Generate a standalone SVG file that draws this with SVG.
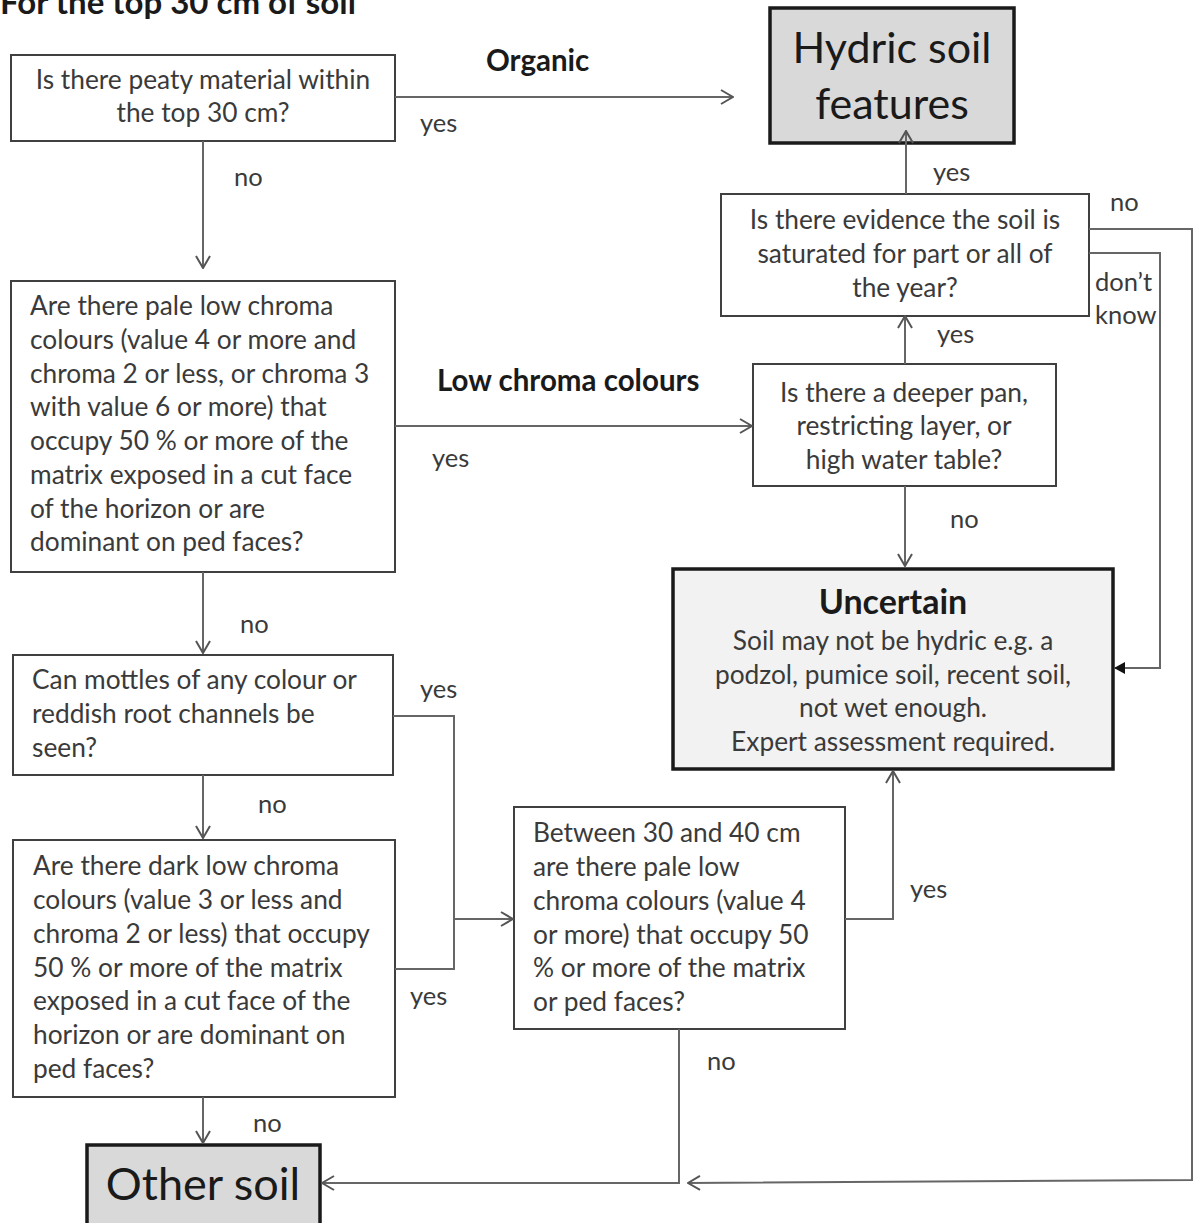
<svg xmlns="http://www.w3.org/2000/svg" width="1194" height="1223" viewBox="0 0 1194 1223">
<defs>
<style>
.box{fill:#fff;stroke:#404040;stroke-width:2}
.term{fill:#d9d9d9;stroke:#1a1a1a;stroke-width:3.5}
.unc{fill:#f2f2f2;stroke:#1a1a1a;stroke-width:3.5}
text{font-family:Lato,"Liberation Sans",sans-serif;fill:#3a3a3a}
.t{font-size:26.3px}
.c{text-anchor:middle}
.b{font-weight:bold;fill:#1a1a1a}
.bl{font-size:29.5px}
.big{font-size:43px;fill:#1a1a1a}
.lbl{font-size:25.5px}
.ln{fill:none;stroke:#666;stroke-width:2}
</style>
<marker id="open" markerWidth="14" markerHeight="16" refX="13" refY="8" orient="auto" markerUnits="userSpaceOnUse">
<path d="M1,1 L13,8 L1,15" fill="none" stroke="#555" stroke-width="2"/>
</marker>
<marker id="fill" markerWidth="12" markerHeight="12" refX="11" refY="6" orient="auto" markerUnits="userSpaceOnUse">
<path d="M0,0 L11,6 L0,12 Z" fill="#111"/>
</marker>
</defs>
<rect width="1194" height="1223" fill="#fff"/>
<text x="0" y="14" class="b" style="font-size:33px">For the top 30 cm of soil</text>

<g id="peaty">
<rect class="box" x="11" y="55" width="384" height="86"/>
<text class="t c" x="203" y="89">Is there peaty material within</text>
<text class="t c" x="203" y="122">the top 30 cm?</text>
</g>

<g id="hydric">
<rect class="term" x="770" y="8" width="244" height="135"/>
<text class="big c" x="892" y="63">Hydric soil</text>
<text class="big c" x="892" y="119">features</text>
</g>

<g id="saturated">
<rect class="box" x="721" y="194" width="368" height="122"/>
<text class="t c" x="905" y="229">Is there evidence the soil is</text>
<text class="t c" x="905" y="263">saturated for part or all of</text>
<text class="t c" x="905" y="297">the year?</text>
</g>

<g id="pale">
<rect class="box" x="11" y="281" width="384" height="291"/>
<text class="t" x="30" y="315">Are  there pale low chroma</text>
<text class="t" x="30" y="349">colours (value 4 or more and</text>
<text class="t" x="30" y="383">chroma 2 or less, or chroma 3</text>
<text class="t" x="30" y="416">with value 6 or more) that</text>
<text class="t" x="30" y="450">occupy 50 % or more of the</text>
<text class="t" x="30" y="484">matrix exposed in a cut face</text>
<text class="t" x="30" y="518">of the horizon or are</text>
<text class="t" x="30" y="551">dominant on ped faces?</text>
</g>

<g id="deeper">
<rect class="box" x="753" y="364" width="303" height="122"/>
<text class="t c" x="904" y="402">Is there a deeper pan,</text>
<text class="t c" x="904" y="435">restricting layer, or</text>
<text class="t c" x="904" y="469">high water table?</text>
</g>

<g id="uncertain">
<rect class="unc" x="673" y="569" width="440" height="200"/>
<text class="c b" x="893" y="614" style="font-size:34px">Uncertain</text>
<text class="t c" x="893" y="650">Soil may not be hydric e.g. a</text>
<text class="t c" x="893" y="684">podzol, pumice soil, recent soil,</text>
<text class="t c" x="893" y="717">not wet enough.</text>
<text class="t c" x="893" y="751">Expert assessment required.</text>
</g>

<g id="mottles">
<rect class="box" x="13" y="655" width="380" height="120"/>
<text class="t" x="32" y="689">Can mottles of any colour or</text>
<text class="t" x="32" y="723">reddish root channels be</text>
<text class="t" x="32" y="757">seen?</text>
</g>

<g id="dark">
<rect class="box" x="13" y="840" width="382" height="257"/>
<text class="t" x="33" y="875">Are there dark low chroma</text>
<text class="t" x="33" y="909">colours (value 3 or less and</text>
<text class="t" x="33" y="943">chroma 2 or less) that occupy</text>
<text class="t" x="33" y="977">50 % or more of the matrix</text>
<text class="t" x="33" y="1010">exposed in a cut face of the</text>
<text class="t" x="33" y="1044">horizon or are dominant on</text>
<text class="t" x="33" y="1078">ped faces?</text>
</g>

<g id="between">
<rect class="box" x="514" y="807" width="331" height="222"/>
<text class="t" x="533" y="842">Between 30 and 40 cm</text>
<text class="t" x="533" y="876">are there pale low</text>
<text class="t" x="533" y="910">chroma colours (value 4</text>
<text class="t" x="533" y="944">or more) that occupy 50</text>
<text class="t" x="533" y="977">% or more of the matrix</text>
<text class="t" x="533" y="1011">or ped faces?</text>
</g>

<g id="other">
<rect class="term" x="87" y="1145" width="233" height="80"/>
<text class="big c" x="203" y="1200" style="font-size:45px">Other soil</text>
</g>

<g id="connectors">
<path class="ln" d="M395,97 L733,97" marker-end="url(#open)"/>
<path class="ln" d="M203,141 L203,268" marker-end="url(#open)"/>
<path class="ln" d="M395,426 L752,426" marker-end="url(#open)"/>
<path class="ln" d="M906,194 L906,131" marker-end="url(#open)"/>
<path class="ln" d="M905,364 L905,316" marker-end="url(#open)"/>
<path class="ln" d="M1089,229 L1192,229 L1192,1180 L688,1183" marker-end="url(#open)"/>
<path class="ln" d="M1089,253 L1160,253 L1160,668 L1114,668" marker-end="url(#fill)"/>
<path class="ln" d="M905,486 L905,566" marker-end="url(#open)"/>
<path class="ln" d="M203,572 L203,653" marker-end="url(#open)"/>
<path class="ln" d="M203,775 L203,838" marker-end="url(#open)"/>
<path class="ln" d="M393,716 L454,716 L454,969 L395,969"/>
<path class="ln" d="M454,919 L513,919" marker-end="url(#open)"/>
<path class="ln" d="M845,919 L893,919 L893,771" marker-end="url(#open)"/>
<path class="ln" d="M679,1029 L679,1183 L322,1183" marker-end="url(#open)"/>
<path class="ln" d="M203,1097 L203,1143" marker-end="url(#open)"/>
<text x="486" y="71" class="bl b">Organic</text>
<text x="420" y="132" class="lbl">yes</text>
<text x="234" y="186" class="lbl">no</text>
<text x="933" y="181" class="lbl">yes</text>
<text x="1110" y="211" class="lbl">no</text>
<text x="1095" y="291" class="lbl">don’t</text>
<text x="1095" y="324" class="lbl">know</text>
<text x="937" y="343" class="lbl">yes</text>
<text x="437" y="391" class="bl b">Low chroma colours</text>
<text x="432" y="467" class="lbl">yes</text>
<text x="950" y="528" class="lbl">no</text>
<text x="240" y="633" class="lbl">no</text>
<text x="420" y="698" class="lbl">yes</text>
<text x="258" y="813" class="lbl">no</text>
<text x="910" y="898" class="lbl">yes</text>
<text x="410" y="1005" class="lbl">yes</text>
<text x="707" y="1070" class="lbl">no</text>
<text x="253" y="1132" class="lbl">no</text>
</g>
</svg>
